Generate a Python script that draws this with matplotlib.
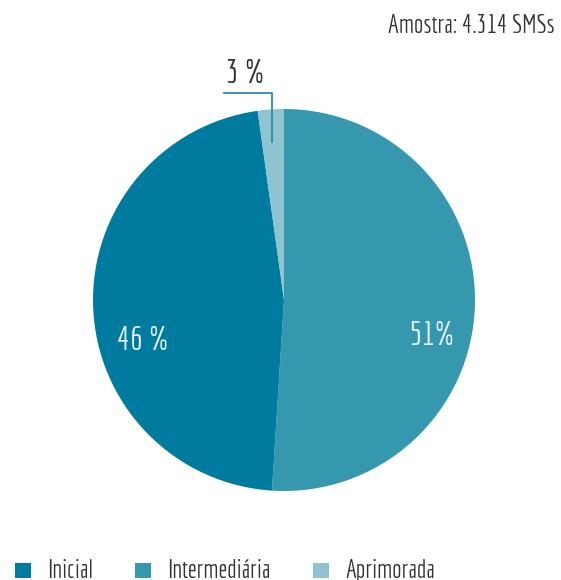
import matplotlib
matplotlib.use('Agg')
import matplotlib.pyplot as plt
from matplotlib.textpath import TextPath
from matplotlib.font_manager import FontProperties

fonte = 'Economica'
plt.rcParams['font.family'] = [fonte, 'DejaVu Sans']

categorias = ['Intermediária', 'Inicial', 'Aprimorada']
valores = [51.0, 46.8, 2.2]
rotulos = ['51%', '46 %', '3 %']
cores = ['#3598ae', '#007ba0', '#8dc4cf']
ordem_legenda = ['Inicial', 'Intermediária', 'Aprimorada']
amostra = 'Amostra: 4.314 SMSs'


def tam(cap_px):
    '''tamanho em pt para uma altura de maiúscula em px'''
    h = TextPath((0, 0), 'I', prop=FontProperties(family=fonte, size=100)).get_extents().height
    return cap_px / (h / 100) * 0.72


fig = plt.figure(figsize=(5.61, 5.8), dpi=100)
ax = fig.add_axes([0, 0, 1, 1])

ax.pie(valores, colors=cores, startangle=90, counterclock=False,
       center=(284, 280), radius=191, frame=True,
       wedgeprops={'linewidth': 0})
ax.set_xlim(0, 561)
ax.set_ylim(0, 580)
ax.set_aspect('equal')
ax.axis('off')

# rótulos das fatias
ax.text(432, 235, rotulos[0], color='#e6f3f6', fontsize=tam(23), ha='center', va='baseline')
ax.text(143, 230, rotulos[1], color='#e6f3f6', fontsize=tam(23), ha='center', va='baseline')
ax.text(245, 497, rotulos[2], color='#333333', fontsize=tam(23), ha='center', va='baseline')
# linha guia do 3 %
ax.plot([224, 272, 272], [487, 487, 438], color='#2a8ea8', lw=1.3)

ax.text(555, 547, amostra, color='#333333', fontsize=tam(18), ha='right', va='baseline')

x_quad = [15, 135, 313]
x_txt = [47, 167, 345]
cor_leg = dict(zip(categorias, cores))
for nome, xq, xt in zip(ordem_legenda, x_quad, x_txt):
    ax.add_patch(plt.Rectangle((xq, 2), 16, 15, color=cor_leg[nome], lw=0))
    ax.text(xt, 2, nome, color='#333333', fontsize=tam(18), ha='left', va='baseline')

fig.savefig('out.png', dpi=100)
